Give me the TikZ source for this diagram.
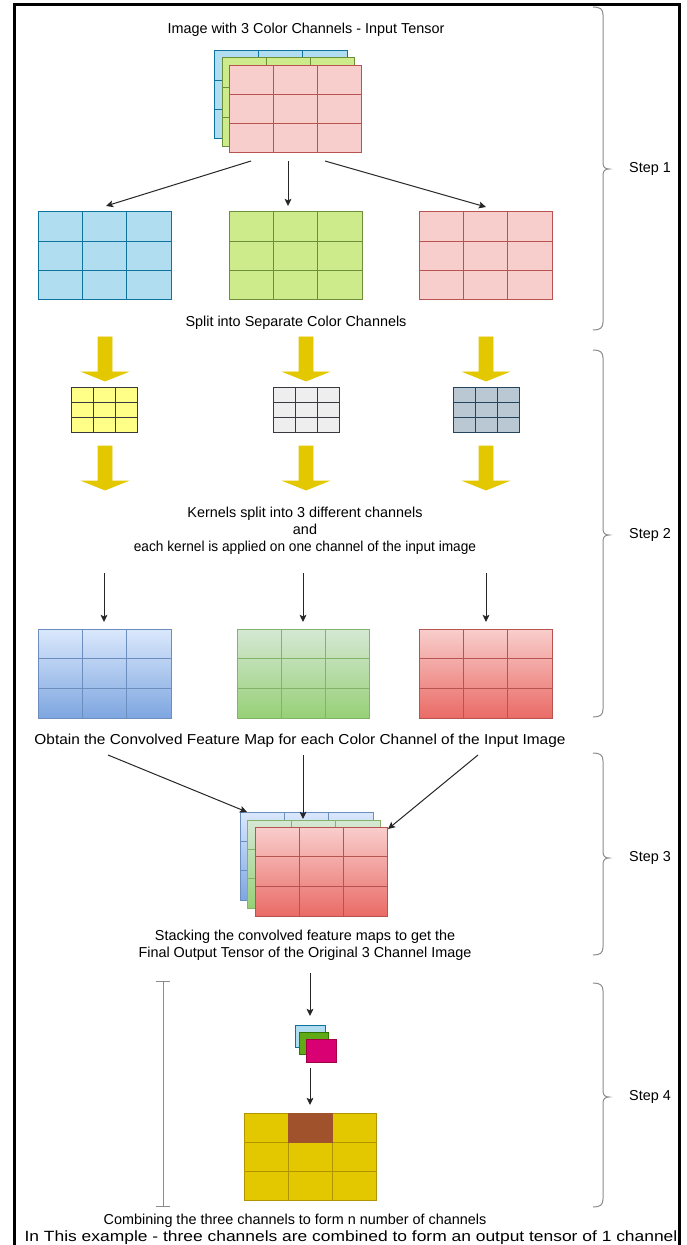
\documentclass[tikz,border=0pt]{standalone}
\usepackage{fontspec}
\setmainfont{Liberation Sans}
\usetikzlibrary{arrows.meta,calc}
\definecolor{cBlueF}{HTML}{B1DDF0}\definecolor{cBlueS}{HTML}{10739E}
\definecolor{cGreenF}{HTML}{CDEB8B}\definecolor{cGreenS}{HTML}{6D8E3A}
\definecolor{cRedF}{HTML}{F8CECC}\definecolor{cRedS}{HTML}{B85450}
\definecolor{cYel}{HTML}{E3C800}\definecolor{cYelS}{HTML}{B09500}
\definecolor{kYelF}{HTML}{FFFF88}\definecolor{kS}{HTML}{36393D}
\definecolor{kGreyF}{HTML}{EEEEEE}
\definecolor{kBlueF}{HTML}{BAC8D3}\definecolor{kBlueS}{HTML}{23445D}
\definecolor{gBlueT}{HTML}{DAE8FC}\definecolor{gBlueB}{HTML}{7EA6E0}\definecolor{gBlueS}{HTML}{6C8EBF}
\definecolor{gGreenT}{HTML}{D5E8D4}\definecolor{gGreenB}{HTML}{97D077}\definecolor{gGreenS}{HTML}{82B366}
\definecolor{gRedT}{HTML}{F8CECC}\definecolor{gRedB}{HTML}{EA6B66}\definecolor{gRedS}{HTML}{B85450}
\definecolor{sGreenF}{HTML}{60A917}\definecolor{sGreenS}{HTML}{2D7600}
\definecolor{sMagF}{HTML}{D80073}\definecolor{sMagS}{HTML}{A50040}
\definecolor{cBrown}{HTML}{A0522D}
\definecolor{brcol}{HTML}{8C8C8C}
\tikzset{
  box/.style={rectangle,inner sep=0pt,outer sep=0pt,line width=0.5pt},
  txt/.style={inner sep=0pt,font=\fontsize{7.2}{8.4}\selectfont,align=center},
  arr/.style={draw=black!85,line width=0.5pt,-{Stealth[length=3.6pt,width=3.4pt,inset=0.8pt]}},
  brc/.style={draw=brcol,line width=0.5pt},
  yarr/.style={fill=cYel,draw=cYel,line width=0.4pt},
}
\newcommand\gbox[7]{%
  \node[box,#6,draw=#7,minimum width=#4*0.5pt,minimum height=#5*0.5pt] (#1) at (#2+#4/2,#3+#5/2) {};
  \draw[#7,line width=0.5pt] ($(#1.north west)!1/3!(#1.north east)$) -- ($(#1.south west)!1/3!(#1.south east)$)
    ($(#1.north west)!2/3!(#1.north east)$) -- ($(#1.south west)!2/3!(#1.south east)$)
    ($(#1.north west)!1/3!(#1.south west)$) -- ($(#1.north east)!1/3!(#1.south east)$)
    ($(#1.north west)!2/3!(#1.south west)$) -- ($(#1.north east)!2/3!(#1.south east)$);
}
\newcommand\pbox[7]{%
  \node[box,#6,draw=#7,minimum width=#4*0.5pt,minimum height=#5*0.5pt] (#1) at (#2+#4/2,#3+#5/2) {};
}
\newcommand\yarrow[2]{%
  \filldraw[yarr] (#1-7,#2) -- (#1+7,#2) -- (#1+7,#2+35) -- (#1+22.5,#2+35) -- (#1,#2+44) -- (#1-22.5,#2+35) -- (#1-7,#2+35) -- cycle;
}
\newcommand\stepbrace[5]{%
  \draw[brc] (593,#1) .. controls (600,#1) and (603,#1+2) .. (603,#1+8) -- (603,#2-6)
    .. controls (603,#2-2) and (605,#2) .. (609,#2)
    .. controls (605,#2) and (603,#2+2) .. (603,#2+6) -- (603,#3-8)
    .. controls (603,#3-2) and (600,#3) .. (593,#3);
  \node[txt] (#4) at (650,#2) {#5};
}
\begin{document}
\begin{tikzpicture}[x=0.5pt,y=-0.5pt]
\useasboundingbox (0,0) rectangle (686,1245);
\fill[white] (0,0) rectangle (686,1245);
% frame
\draw[line width=1.5pt,black] (14,1245) -- (14,5) -- (679,5) -- (679,1245);

% Step 1
\node[txt] (title) at (306,30) {Image with 3 Color Channels - Input Tensor};
\gbox{inB}{214}{51}{133}{88}{fill=cBlueF}{cBlueS}
\gbox{inG}{222}{58}{132}{89}{fill=cGreenF}{cGreenS}
\gbox{inR}{229}{66}{132}{87}{fill=cRedF}{cRedS}
\gbox{chB}{38}{212}{133}{88}{fill=cBlueF}{cBlueS}
\gbox{chG}{229}{212}{133}{88}{fill=cGreenF}{cGreenS}
\gbox{chR}{419}{212}{133}{88}{fill=cRedF}{cRedS}
\coordinate (a1s) at (251,161); \coordinate (a1e) at (106,206);
\coordinate (a2s) at (288,161); \coordinate (a2e) at (288,206);
\coordinate (a3s) at (325,161); \coordinate (a3e) at (486,207);
\draw[arr] (a1s) -- (a1e);
\draw[arr] (a2s) -- (a2e);
\draw[arr] (a3s) -- (a3e);
\node[txt] (split) at (296,323) {Split into Separate Color Channels};
\stepbrace{7}{169}{330}{s1}{Step 1}

% Step 2
\yarrow{105}{337}\yarrow{306}{337}\yarrow{486}{337}
\gbox{kY}{71}{388}{66}{44}{fill=kYelF}{kS}
\gbox{kG}{273}{388}{66}{44}{fill=kGreyF}{kS}
\gbox{kB}{453}{388}{66}{44}{fill=kBlueF}{kBlueS}
\yarrow{105}{446}\yarrow{306}{446}\yarrow{486}{446}
\node[txt] (kern) at (305,531) {Kernels split into 3 different channels\\and\\\scalebox{0.95}[1]{each kernel is applied on one channel of the input image}};
\coordinate (b1s) at (104,573); \coordinate (b1e) at (104,622);
\coordinate (b2s) at (303,573); \coordinate (b2e) at (303,622);
\coordinate (b3s) at (486,573); \coordinate (b3e) at (486,622);
\draw[arr] (b1s) -- (b1e);
\draw[arr] (b2s) -- (b2e);
\draw[arr] (b3s) -- (b3e);
\gbox{fB}{38}{629}{133}{89}{top color=gBlueT,bottom color=gBlueB}{gBlueS}
\gbox{fG}{237}{629}{132}{89}{top color=gGreenT,bottom color=gGreenB}{gGreenS}
\gbox{fR}{419}{629}{133}{89}{top color=gRedT,bottom color=gRedB}{gRedS}
\stepbrace{350}{535}{717}{s2}{Step 2}
\node[txt] (obtain) at (300,741) {\scalebox{1.07}[1]{Obtain the Convolved Feature Map for each Color Channel of the Input Image}};

% Step 3
\gbox{sB}{240}{812}{133}{88}{top color=gBlueT,bottom color=gBlueB}{gBlueS}
\gbox{sG}{247}{820}{133}{88}{top color=gGreenT,bottom color=gGreenB}{gGreenS}
\gbox{sR}{255}{827}{132}{89}{top color=gRedT,bottom color=gRedB}{gRedS}
\coordinate (c1s) at (108,755); \coordinate (c1e) at (247,812);
\coordinate (c2s) at (303,755); \coordinate (c2e) at (303,819);
\coordinate (c3s) at (478,755); \coordinate (c3e) at (388,829);
\draw[arr] (c1s) -- (c1e);
\draw[arr] (c2s) -- (c2e);
\draw[arr] (c3s) -- (c3e);
\node[txt] (stack) at (305,945) {Stacking the convolved feature maps to get the\\Final Output Tensor of the Original 3 Channel Image};
\stepbrace{753}{858}{955}{s3}{Step 3}

% Step 4
\coordinate (bt) at (163,981); \coordinate (bb) at (163,1207);
\draw[brc,{Bar[width=7pt,line width=0.5pt]}-{Bar[width=7pt,line width=0.5pt]}] (bt) -- (bb);
\coordinate (d1s) at (310,973); \coordinate (d1e) at (310,1016);
\draw[arr] (d1s) -- (d1e);
\pbox{tB}{295}{1025}{30}{22}{fill=cBlueF}{cBlueS}
\pbox{tG}{299}{1032}{29}{22}{fill=sGreenF}{sGreenS}
\pbox{tM}{306}{1039}{30}{23}{fill=sMagF}{sMagS}
\coordinate (d2s) at (310,1068); \coordinate (d2e) at (310,1105);
\draw[arr] (d2s) -- (d2e);
\gbox{out}{244}{1113}{132}{87}{fill=cYel}{cYelS}
\node[box,fill=cBrown,draw=cBrown,minimum width=44*0.5pt,minimum height=29*0.5pt] (brn) at ($(out.north west)!0.5!(out.north east)+(0,14.5)$) {};
\node[txt] (comb) at (295,1221) {Combining the three channels to form n number of channels};
\node[txt] (ex) at (351,1238) {\scalebox{1.21}[1.03]{In This example - three channels are combined to form an output tensor of 1 channel}};
\stepbrace{983}{1097}{1207}{s4}{Step 4}
\end{tikzpicture}
\end{document}
